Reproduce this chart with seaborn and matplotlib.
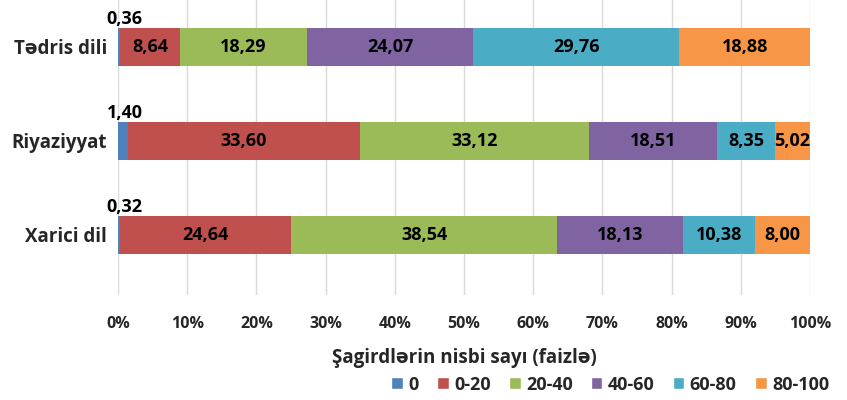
import numpy as np
import pandas as pd
import matplotlib
matplotlib.use("Agg")
import matplotlib.pyplot as plt
import seaborn as sns
from matplotlib.patches import Patch

# Datos
fenler = ["Tədris dili", "Riyaziyyat", "Xarici dil"]
araliqlar = ["0", "0-20", "20-40", "40-60", "60-80", "80-100"]
v_0 = [0.36, 1.40, 0.32]
v_0_20 = [8.64, 33.60, 24.64]
v_20_40 = [18.29, 33.12, 38.54]
v_40_60 = [24.07, 18.51, 18.13]
v_60_80 = [29.76, 8.35, 10.38]
v_80_100 = [18.88, 5.02, 8.00]
xticks = ["0%", "10%", "20%", "30%", "40%", "50%", "60%", "70%", "80%", "90%", "100%"]

COLORS = ["#4F81BD", "#C0504D", "#9BBB59", "#8064A2", "#4BACC6", "#F79646"]

sns.set_theme(style="white")
plt.rcParams["font.family"] = ["Open Sans", "DejaVu Sans"]
plt.rcParams["font.weight"] = "bold"

series = [v_0, v_0_20, v_20_40, v_40_60, v_60_80, v_80_100]
df = pd.DataFrame({a: s for a, s in zip(araliqlar, series)}, index=fenler)
cum = df.cumsum(axis=1)

fig = plt.figure(figsize=(8.47, 4.0), dpi=100)
ax = fig.add_axes([118 / 847, 1 - 295 / 400, (810 - 118) / 847, 295 / 400])

# barras apiladas: dibujar acumulados de mayor a menor
for i in range(len(araliqlar) - 1, -1, -1):
    col = araliqlar[i]
    d = pd.DataFrame({"fen": fenler, "val": cum[col].values})
    sns.barplot(data=d, x="val", y="fen", color=COLORS[i], orient="h",
                width=0.4, saturation=1, ax=ax, zorder=3, edgecolor="none")

# etiquetas
LBL = 13
for j, fen in enumerate(fenler):
    left = 0
    for i, col in enumerate(araliqlar):
        v = df.loc[fen, col]
        txt = f"{v:.2f}".replace(".", ",")
        if i == 0:
            ax.text(1.0, j - 0.30, txt, ha="center", va="center",
                    fontsize=LBL, fontweight="bold", color="black", zorder=5)
        else:
            ax.text(left + v / 2, j, txt, ha="center", va="center",
                    fontsize=LBL, fontweight="bold", color="black", zorder=5)
        left += v

ax.set_xlim(0, 100)
ax.set_ylim(2.64, -0.5)
ax.set_xticks(np.arange(0, 101, 10))
ax.set_xticklabels(xticks, fontsize=11.5, fontweight="bold")
ax.tick_params(axis="x", length=0, pad=15)
ax.tick_params(axis="y", length=0, pad=8, labelsize=13.5)
for lbl in ax.get_yticklabels():
    lbl.set_fontweight("bold")
ax.set_ylabel("")
ax.set_xlabel("Şagirdlərin nisbi sayı (faizlə)", fontsize=13.5,
              fontweight="bold", labelpad=12)
ax.xaxis.grid(True, color="#D9D9D9", lw=1, zorder=0)
ax.yaxis.grid(False)
for s in ax.spines.values():
    s.set_visible(False)

handles = [Patch(facecolor=c, label=a) for c, a in zip(COLORS, araliqlar)]
fig.legend(handles=handles, loc="lower right", bbox_to_anchor=(0.998, -0.025),
           ncol=6, frameon=False, handlelength=0.65,
           handleheight=0.65, handletextpad=0.3, columnspacing=1.0,
           prop={"weight": "bold", "size": 13})

fig.savefig("out.png", dpi=100)
